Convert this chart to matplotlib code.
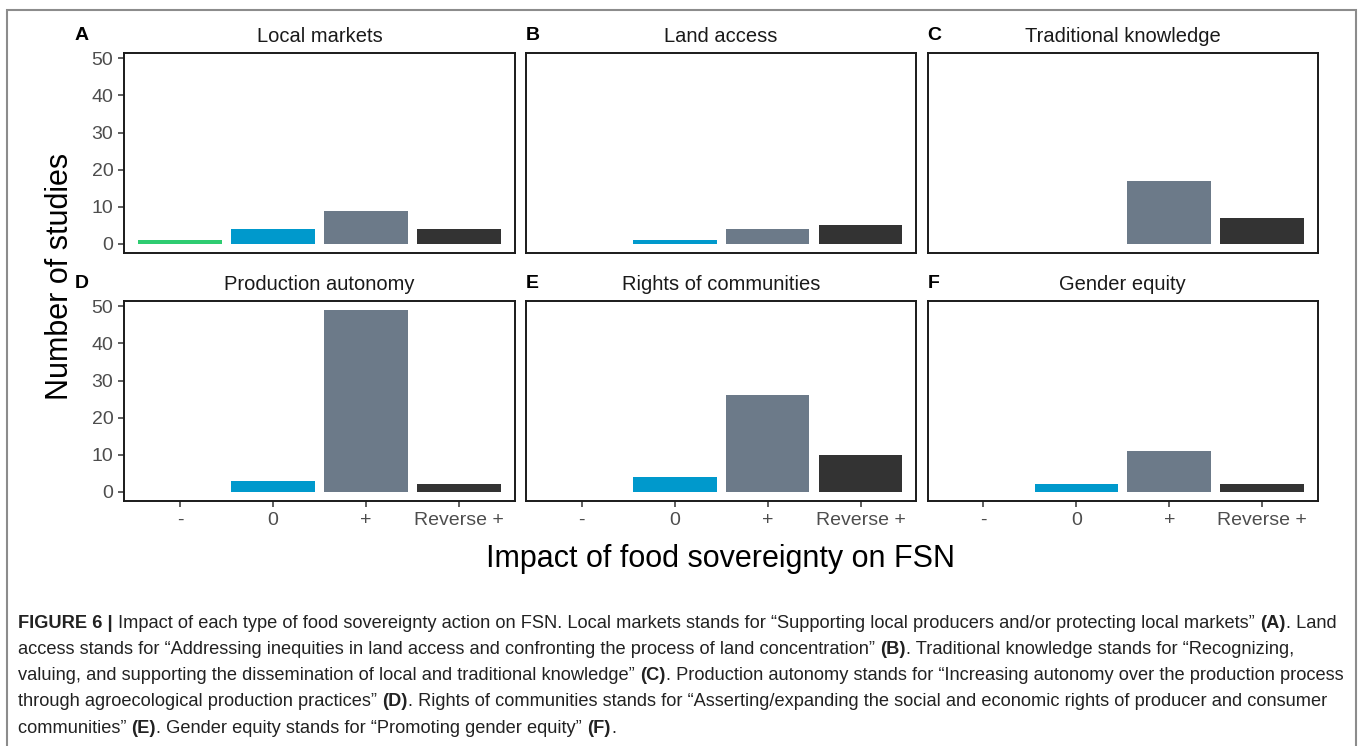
import matplotlib
matplotlib.use("Agg")
import matplotlib.pyplot as plt
from matplotlib.patches import Rectangle

plt.rcParams['font.family'] = ['Liberation Sans', 'DejaVu Sans']

# ---- data ----
categories = ['-', '0', '+', 'Reverse +']
bar_colors = ['#2ecc71', '#0099cc', '#6c7a89', '#333333']

panel_tags = ['A', 'B', 'C', 'D', 'E', 'F']
panel_titles = ['Local markets', 'Land access', 'Traditional knowledge',
                'Production autonomy', 'Rights of communities', 'Gender equity']

local_markets = [1, 4, 9, 4]
land_access = [0, 1, 4, 5]
traditional_knowledge = [0, 0, 17, 7]
production_autonomy = [0, 3, 49, 2]
rights_of_communities = [0, 4, 26, 10]
gender_equity = [0, 2, 11, 2]

yticks = [0, 10, 20, 30, 40, 50]

caption_lines = [
    [("FIGURE 6 |", True),
     (" Impact of each type of food sovereignty action on FSN. Local markets stands for "
      "\u201cSupporting local producers and/or protecting local markets\u201d ", False),
     ("(A)", True), (". Land", False)],
    [("access stands for \u201cAddressing inequities in land access and confronting the "
      "process of land concentration\u201d ", False),
     ("(B)", True), (". Traditional knowledge stands for \u201cRecognizing,", False)],
    [("valuing, and supporting the dissemination of local and traditional knowledge\u201d ", False),
     ("(C)", True), (". Production autonomy stands for \u201cIncreasing autonomy over the "
                     "production process", False)],
    [("through agroecological production practices\u201d ", False), ("(D)", True),
     (". Rights of communities stands for \u201cAsserting/expanding the social and economic "
      "rights of producer and consumer", False)],
    [("communities\u201d ", False), ("(E)", True),
     (". Gender equity stands for \u201cPromoting gender equity\u201d ", False),
     ("(F)", True), (".", False)],
]

panel_values = [local_markets, land_access, traditional_knowledge,
                production_autonomy, rights_of_communities, gender_equity]

# ---- layout (pixels) ----
W, H = 1360, 746
col_left = [124.5, 526, 927.7]
panel_w = 390.3
row_top = [53, 301]
panel_h = 200

fig = plt.figure(figsize=(W / 100, H / 100), dpi=100)
fig.patch.set_facecolor('white')


def fx(px):
    return px / W


def fy(py):
    return 1 - py / H


# outer frame of the figure box
fig.patches.append(Rectangle((fx(7), fy(760)), fx(1356) - fx(7), fy(10) - fy(760),
                             transform=fig.transFigure, fill=False,
                             edgecolor='#8c8c8c', linewidth=1.5))

x = list(range(1, len(categories) + 1))
for i, (vals, tag, title) in enumerate(zip(panel_values, panel_tags, panel_titles)):
    r, c = divmod(i, 3)
    left, top = col_left[c], row_top[r]
    ax = fig.add_axes([fx(left), fy(top + panel_h), fx(panel_w), panel_h / H])
    ax.bar(x, vals, width=0.9, color=bar_colors, edgecolor='none')
    ax.set_xlim(0.4, 4.6)
    ax.set_ylim(-2.45, 51.45)
    for s in ax.spines.values():
        s.set_linewidth(1.4)
        s.set_color('#1a1a1a')
    ax.tick_params(colors='#333333', labelcolor='#4d4d4d', labelsize=14,
                   length=4, width=1.1, pad=4)
    ax.set_yticks(yticks)
    ax.set_xticks(x)
    if c == 0:
        ax.set_yticklabels([str(v) for v in yticks])
    else:
        ax.tick_params(axis='y', left=False, labelleft=False)
    if r == 1:
        ax.set_xticklabels(categories)
    else:
        ax.tick_params(axis='x', bottom=False, labelbottom=False)

    title_y = top - 17
    fig.text(fx(left + panel_w / 2), fy(title_y), title, ha='center', va='center',
             fontsize=14.5, color='#1a1a1a')
    tag_x = 75 if c == 0 else left
    fig.text(fx(tag_x), fy(title_y), tag, ha='left', va='center',
             fontsize=14, fontweight='bold', color='black')

fig.text(fx(60), fy(276), 'Number of studies', rotation=90, ha='center', va='center',
         fontsize=22, color='black')
fig.text(fx(721), fy(559), 'Impact of food sovereignty on FSN', ha='center', va='center',
         fontsize=22, color='black')

# caption with bold fragments placed one after another
renderer = fig.canvas.get_renderer()
cap_size = 13.15
marker = fig.text(0, 0, '|', fontsize=cap_size)
bar_w = marker.get_window_extent(renderer).width
marker.remove()
line_y = 627.5
for segs in caption_lines:
    xpos = 18
    for txt, bold in segs:
        weight = 'bold' if bold else 'normal'
        fig.text(fx(xpos), fy(line_y), txt, fontsize=cap_size, fontweight=weight,
                 color='#222222', ha='left', va='baseline')
        probe = fig.text(0, 0, txt + '|', fontsize=cap_size, fontweight=weight)
        w = probe.get_window_extent(renderer).width - bar_w
        probe.remove()
        xpos += w
    line_y += 26.3

fig.savefig('out.png', dpi=100)
